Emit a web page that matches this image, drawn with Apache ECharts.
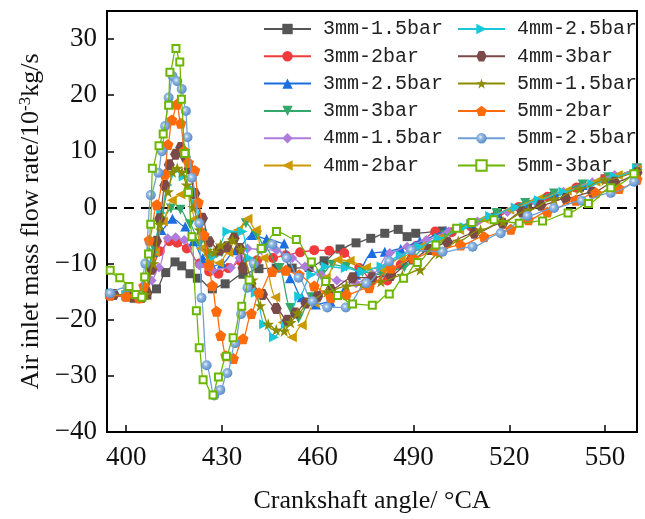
<!DOCTYPE html>
<html>
<head>
<meta charset="utf-8">
<script src="https://cdn.jsdelivr.net/npm/echarts@6/dist/echarts.min.js"></script>
<style>html,body{margin:0;padding:0;background:#fff;}#c{width:645px;height:519px;}</style>
</head>
<body>
<div id="c"></div>
<script>
const xTicks = [400, 430, 460, 490, 520, 550];
const yTicks = [-40, -30, -20, -10, 0, 10, 20, 30];
const names = ['3mm-1.5bar','3mm-2bar','3mm-2.5bar','3mm-3bar','4mm-1.5bar','4mm-2bar',
               '4mm-2.5bar','4mm-3bar','5mm-1.5bar','5mm-2bar','5mm-2.5bar','5mm-3bar'];

const s3mm15 = [[395,-15.5],[400,-15.6],[404,-16.0],[406.5,-15.6],[409.5,-14.5],[412.4,-11.6],[415.3,-9.7],[417.4,-10.4],[420,-11.8],[422.3,-12.6],[427,-14.5],[431,-13.6],[436.6,-11.9],[441.6,-10.9],[447,-10.8],[452,-10.8],[457.3,-10.7],[462,-9.5],[467,-7.4],[472,-6.3],[476.6,-5.5],[481,-4.6],[485.2,-3.9],[488,-5.2],[490.7,-4.6],[499,-4.2],[508,-3.0],[516.3,-1.1],[525.7,0.5],[534,2.0],[542,3.6],[550,5.1],[560,6.8]];
const s3mm2 = [[395,-15.6],[400,-15.9],[404,-16.2],[406,-14.8],[408,-11],[410.5,-7.8],[413.5,-6.0],[416,-6.3],[419,-7.3],[423,-10],[426,-11.4],[428.9,-11.8],[432,-10.8],[436,-9.6],[441,-9.4],[446,-9.0],[450,-8.5],[454.5,-8.0],[458.9,-7.6],[463.6,-7.7],[468.3,-8.1],[473,-10.8],[477,-13.0],[481.8,-13.0],[486,-10.2],[491,-6.8],[496.8,-4.3],[502,-4.4],[508,-3.4],[515,-1.8],[523,0.1],[532,1.9],[541,3.5],[550,5.1],[560,6.9]];
const s3mm25 = [[395,-15.4],[400,-15.7],[404,-16.0],[406,-15],[408.5,-8],[411,-4],[414.5,-2.0],[418.5,-3.4],[421,-6],[424,-9],[427,-10.5],[430,-10],[434.3,-7.6],[439.4,-4.9],[444,-5.6],[449.5,-6.4],[451.3,-12.6],[455,-16],[459.4,-17.3],[464,-16.8],[468,-15],[472,-12],[477,-8.1],[481,-7.9],[486,-7.4],[492,-6.0],[500,-4.2],[508,-2.8],[516,-1.0],[525,0.8],[534,2.5],[543,4.0],[551,5.3],[560,7.0]];
const s3mm3 = [[395,-15.5],[400,-15.8],[404,-16.1],[406,-15],[408.5,-7],[411,-2.5],[414,-0.2],[417,-0.4],[420,-3],[423,-6.5],[426,-9],[430,-8],[434,-5],[437.5,-2.8],[441,-5],[443.7,-7.3],[448,-10.8],[451.4,-17.9],[454,-19.8],[458,-16],[461,-12],[464.6,-10.2],[469,-10.5],[474,-11.5],[480,-12],[487.1,-10.7],[493,-7.5],[500,-5],[508,-3],[516,-1],[525,0.8],[534,2.5],[543,4.1],[551,5.4],[560,7.0]];
const s4mm15 = [[395,-15.6],[400,-15.8],[404,-16.0],[406,-15.5],[408,-13],[410.3,-10.7],[413,-5.5],[415.5,-5.3],[418.2,-5.8],[422.9,-10.3],[427,-11.2],[432.8,-10.7],[435.5,-9],[438,-7.3],[442,-7.5],[447.1,-7.6],[452,-9],[456,-10.5],[461,-12],[466,-13],[472,-13.5],[477.1,-11.9],[482.6,-8.1],[488,-7],[494,-5.8],[501,-4.3],[510,-2.5],[519.4,-0.8],[528,1.1],[537,2.8],[546,4.5],[553,5.8],[560,7.0]];
const s4mm2 = [[395,-15.5],[400,-15.7],[404,-16.0],[406,-15],[409,-8],[411.5,-2.5],[414.3,1.3],[417,2.3],[419.7,2.2],[421.5,-2],[423.4,-7.3],[426,-9.5],[429.1,-9.9],[432,-8],[435,-4],[438,-2.0],[440.6,-4.0],[443,-9],[446.7,-16.0],[449,-20.5],[451.9,-23.1],[455,-21],[459,-17],[462.5,-12.5],[466.2,-9.3],[470,-9.5],[475.1,-10.7],[480,-11],[486,-9],[492,-7],[498,-5.5],[504.3,-4.0],[512,-2],[520,-0.4],[529,1.5],[538,3.0],[547,4.6],[554,5.8],[560,6.8]];
const s4mm25 = [[395,-15.4],[400,-15.6],[404,-16.0],[406,-15],[408.5,-8],[411,-1],[413,4],[415.6,6.6],[418,5.5],[420,3.5],[421.8,0.7],[424,-4],[427.6,-8.7],[431.7,-4.3],[436.4,-4.3],[438.5,-9],[440.6,-15.2],[443.2,-20.8],[446.3,-23.1],[450,-20.8],[454.2,-15.8],[458,-12],[462.5,-10.5],[468.8,-10.8],[474,-11.5],[480,-10.5],[486,-8.5],[491.8,-7.0],[498,-5.5],[506,-3.5],[514,-1.5],[522,0],[529.3,1.3],[537,2.8],[546,4.2],[553,5.5],[560,6.9]];
const s4mm3 = [[395,-15.6],[396.2,-15.5],[402,-16.0],[405,-16.0],[406.5,-15.2],[408,-11],[409.5,-6],[410.5,-2],[412.1,3.9],[413.5,7.6],[415.5,9.5],[417.1,10.7],[418.5,9],[419.7,6.9],[421.5,2.5],[423.9,-1.9],[426,-6.1],[429.1,-7.6],[431.5,-7],[433.8,-5.5],[435.6,-7.3],[436.6,-10.8],[439,-13.5],[442.7,-15.5],[447,-18],[450.5,-20.1],[453,-18.8],[456.3,-17.0],[460,-15.8],[464.1,-14.6],[470.9,-12.5],[477,-12.5],[482.9,-12.1],[489.7,-9.2],[495,-7.5],[500.6,-6.2],[509,-4.6],[517.9,-2.8],[524,-0.8],[529.9,0.4],[537.7,1.6],[546,2.7],[553,4.5],[560,6.2]];
const s5mm15 = [[395,-15.5],[400,-15.7],[404,-16.0],[406,-15.5],[408.5,-10],[410.5,-3],[413.1,2.8],[414.5,6.3],[416,7],[417.5,6.3],[419,4],[421,0],[423,-4],[425.5,-7.6],[427.5,-8],[429.6,-6.7],[433.3,-5.8],[436,-7.5],[439.6,-12.9],[442,-17.5],[444.5,-20.8],[447,-21.8],[449.5,-22.0],[451.5,-20.5],[453.7,-18.8],[458,-16.5],[463,-15],[469,-14],[474,-13.8],[479.8,-13.2],[486.5,-12.1],[492.1,-11.1],[498,-8.2],[504,-6],[511,-4],[518,-2.5],[526,-0.5],[534,1.5],[542,3.3],[550,4.9],[560,6.5]];
const s5mm2 = [[395,-15.6],[400,-15.8],[404,-16.1],[405.5,-14],[407.2,-5.8],[409.6,0.5],[412.1,5.9],[413.1,11.2],[414.3,15.6],[415.9,18.4],[417.1,15.0],[418.2,10.1],[419.5,8],[421.5,6.6],[422.6,0.9],[424.4,-4.9],[425.9,-10.3],[427,-13.9],[428.3,-18.5],[429.6,-22.8],[431.2,-26.4],[433.6,-26.9],[436.6,-23.4],[439.2,-18.9],[441.6,-15.2],[445.8,-11.4],[450,-11.2],[454.2,-12.0],[458.9,-14.0],[464.1,-16.1],[469,-15.5],[476.1,-14.3],[482.9,-10.8],[490,-9],[497,-7.6],[504.8,-6.7],[512.1,-5.2],[520.5,-3.9],[526,-2.2],[531.9,-0.8],[540.8,1.3],[547.1,2.6],[554.4,3.4],[560,5.0]];
const s5mm25 = [[395,-15.3],[400.4,-14.2],[404.5,-15.8],[406,-10],[407.7,2.2],[410.1,6.2],[411.2,10.0],[412.2,14.5],[413.3,19.6],[414.5,23.4],[416,22.5],[417.4,21.1],[418.7,17.2],[419.2,12.5],[420.6,5.3],[422.9,-2.8],[423.6,-16.1],[425.2,-28.1],[427.6,-33.5],[429.5,-32.5],[431.7,-29.5],[434.1,-24.2],[436,-19],[438.0,-14.3],[440,-10],[442.5,-7.3],[445.8,-6.6],[450.3,-9.0],[454,-12.5],[458.4,-16.7],[463,-17.8],[468.8,-17.8],[475.3,-13.5],[482.4,-9.6],[489.4,-7.6],[499.1,-7.9],[508.5,-7.0],[517.3,-4.6],[525.7,-1.5],[534,-0.1],[542.7,1.2],[551.8,2.6],[559.1,4.6]];
const s5mm3 = [[395,-11.2],[398,-12.5],[400.9,-14.1],[403,-15.5],[404.9,-16.0],[405.8,-12.4],[407.0,-8.3],[407.7,-3.0],[408.2,7.0],[410.3,11.0],[411.6,13.1],[413.3,18.2],[413.7,24.1],[415.6,28.3],[416.8,25.9],[417.3,19.3],[418.4,9.6],[419.5,2.7],[420.6,-5.2],[422.0,-18.4],[422.9,-25.0],[424.1,-30.7],[427.2,-33.4],[428.9,-30.2],[431.4,-26.5],[433.5,-23.2],[436.2,-17.6],[438.5,-12.9],[442.3,-7.3],[447.1,-4.3],[453.3,-5.7],[458.0,-9.7],[462.5,-13.2],[466.2,-15.7],[470.9,-17.2],[477.1,-17.4],[482.4,-15.4],[486.9,-12.6],[491.2,-9.8],[497.0,-6.7],[503.5,-3.7],[508.3,-2.7],[515.2,-2.2],[523.1,-2.8],[530.4,-2.4],[538.4,-1.0],[544.8,0.7],[551.8,3.5],[559,6.0]];

const seriesData = [s3mm15, s3mm2, s3mm25, s3mm3, s4mm15, s4mm2, s4mm25, s4mm3, s5mm15, s5mm2, s5mm25, s5mm3];
const colors = ['#555555','#ef3b3b','#1a6ee0','#34a86a','#b07cdb','#cc9a00','#18c8d8','#7a4a48','#8b8c00','#ff6a0a','#6b9fd6','#6cb600'];

const P = {
  dtri: 'path://M0,0 L10,0 L5,9 Z',
  diamond: 'path://M5,0 L10,5 L5,10 L0,5 Z',
  ltri: 'path://M0,5 L9,0 L9,10 Z',
  rtri: 'path://M0,0 L9,5 L0,10 Z',
  hex: 'path://M2.5,0 L7.5,0 L10,4.33 L7.5,8.66 L2.5,8.66 L0,4.33 Z',
  star: 'path://M5,0 L6.18,3.6 L10,3.6 L6.9,5.85 L8.1,9.5 L5,7.25 L1.9,9.5 L3.1,5.85 L0,3.6 L3.82,3.6 Z',
  pent: 'path://M5,0 L10,3.63 L8.09,9.51 L1.91,9.51 L0,3.63 Z'
};
const symbols = ['rect','circle','triangle',P.dtri,P.diamond,P.ltri,P.rtri,P.hex,P.star,P.pent,'circle','rect'];
const sizes = [9,10,10,10,10,10,10,11,12,11,10,7];

const fmt = v => (v < 0 ? '\u2212' + Math.abs(v) : String(v));

const series = seriesData.map((d, i) => {
  let itemStyle = { color: colors[i] };
  if (i === 10) {
    itemStyle = { color: { type: 'radial', x: 0.4, y: 0.4, r: 0.6, colorStops: [
      { offset: 0, color: '#eef4fb' }, { offset: 0.35, color: '#94b9e2' }, { offset: 1, color: '#5a8dca' }] } };
  }
  if (i === 11) {
    itemStyle = { color: '#ffffff', borderColor: colors[i], borderWidth: 2 };
  }
  const s = {
    name: names[i], type: 'line', data: d, smooth: 0.35, smoothMonotone: 'x',
    symbol: symbols[i], symbolSize: sizes[i], showSymbol: true,
    lineStyle: { color: colors[i], width: 1.3 },
    itemStyle: itemStyle, z: 2 + i
  };
  if (i === 0) {
    s.markLine = {
      silent: true, symbol: 'none', label: { show: false }, animation: false,
      lineStyle: { color: '#000', width: 2.2, type: [10, 7] },
      data: [{ yAxis: 0 }]
    };
  }
  return s;
});

const legendBase = {
  orient: 'vertical', itemWidth: 47, itemHeight: 13, itemGap: 7.3, top: 14,
  textStyle: { fontFamily: 'Liberation Mono', fontSize: 20, color: '#222', lineHeight: 20, padding: [0, 0, 0, 7] }
};

const chart = echarts.init(document.getElementById('c'), null, { renderer: 'canvas' });
chart.setOption({
  animation: false,
  backgroundColor: '#fff',
  grid: { left: 107, right: 8, top: 11, bottom: 83, show: true, borderColor: '#000', borderWidth: 2 },
  legend: [
    Object.assign({}, legendBase, { left: 258, data: names.slice(0, 6) }),
    Object.assign({}, legendBase, { left: 452, data: names.slice(6) })
  ],
  xAxis: {
    type: 'value', min: 394, max: 560,
    name: 'Crankshaft angle/ \u00B0CA', nameLocation: 'middle', nameGap: 56,
    nameTextStyle: { fontFamily: 'Liberation Serif', fontSize: 26, color: '#111' },
    axisLine: { onZero: false, lineStyle: { color: '#000', width: 2 } },
    axisTick: { inside: true, length: 7, lineStyle: { color: '#000', width: 1.5 }, customValues: xTicks },
    axisLabel: { fontFamily: 'Liberation Serif', fontSize: 27, color: '#111', margin: 12, customValues: xTicks, formatter: fmt },
    splitLine: { show: false }
  },
  yAxis: {
    type: 'value', min: -40, max: 35,
    name: 'Air inlet mass flow rate/10{sup|-3}kg/s', nameLocation: 'middle', nameGap: 58,
    nameTextStyle: { fontFamily: 'Liberation Serif', fontSize: 26, color: '#111',
      rich: { sup: { fontFamily: 'Liberation Serif', fontSize: 17, color: '#111', verticalAlign: 'top', padding: [0, 0, 10, 0] } } },
    axisLine: { onZero: false, lineStyle: { color: '#000', width: 2 } },
    axisTick: { inside: true, length: 7, lineStyle: { color: '#000', width: 1.5 }, customValues: yTicks },
    axisLabel: { fontFamily: 'Liberation Serif', fontSize: 27, color: '#111', margin: 10, customValues: yTicks, formatter: fmt },
    splitLine: { show: false }
  },
  series: series
});
</script>
</body>
</html>
